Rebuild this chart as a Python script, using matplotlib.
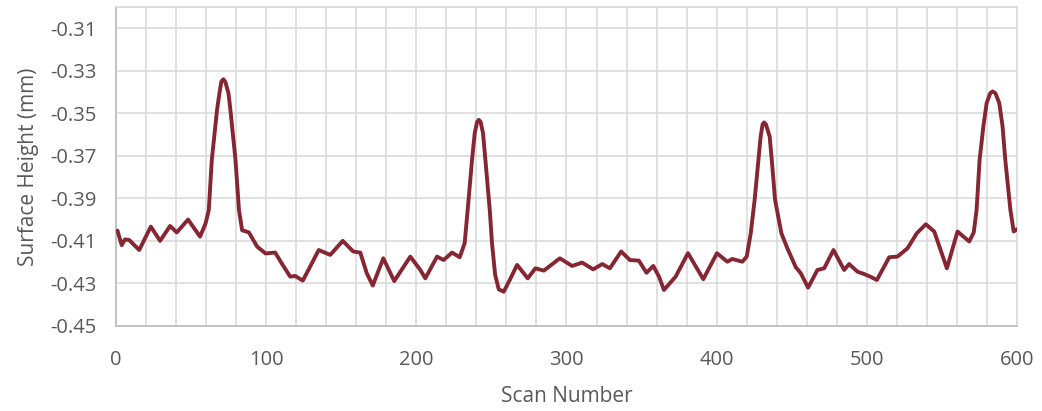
import matplotlib.pyplot as plt
from matplotlib.ticker import MultipleLocator

# Surface profile
scan = [1, 3.8, 6, 8.8, 15.5, 23.2, 29.4, 36, 40.5, 48, 56, 59.7, 61.8, 63.8, 67.3,
        68.9, 70.2, 71.5, 72.8, 74.9, 76.2, 79.6, 81.9, 84, 88.5, 94, 99.6,
        106, 110.4, 116, 119.3, 124.4, 129.3, 135, 142.7,
        151, 158, 162.7, 167, 171, 178, 185.3, 196, 202.7, 206, 213.8, 218.2, 223.8,
        228.9, 232.2, 234.2, 237.1, 238.9, 240.5, 241.6, 242.8, 244.4, 246, 248.9,
        250.4, 252.5, 254.9, 258.2, 262.2,
        267.1, 274.2, 279.3, 284.9, 295.6, 303.8, 310.4, 317.8, 323.8, 328.9, 336.4,
        342.2, 348.2, 353.3, 357.8, 361.6, 364.9, 372.7, 380.9, 391.1, 400.2, 407.1,
        410.4, 417.1, 420, 422.7, 425.3, 427.8, 429.3, 430.6, 431.6, 432.8, 435.3,
        436.7, 438.9, 443.1, 447.1, 452.7,
        456, 460.9, 467.1, 471.6, 477.8, 484.9, 488.2, 493.8, 498.2, 502.2, 506.7,
        514.9, 520.4, 527.1, 533.3, 539.3, 544.9, 553.3, 560.4, 568.2, 571.2, 573.1,
        575.1, 577.6, 579.8, 582.2, 583.8, 585.6, 588.2, 590.4, 592.2, 595.6, 597.8,
        600]
height = [-0.4052, -0.4120, -0.4093, -0.4096, -0.4143, -0.4033, -0.4100, -0.4030,
          -0.4060, -0.4000, -0.4080, -0.4017, -0.3955, -0.3720, -0.3484,
          -0.3405, -0.3350, -0.3340, -0.3352, -0.3405, -0.3484, -0.3720, -0.3955,
          -0.4050, -0.4060, -0.4127, -0.4159,
          -0.4155, -0.4206, -0.4268, -0.4265, -0.4287, -0.4221, -0.4143, -0.4166,
          -0.4100, -0.4150, -0.4155, -0.4252, -0.4310, -0.4182, -0.4289, -0.4174,
          -0.4237, -0.4276, -0.4174, -0.4190, -0.4155,
          -0.4177, -0.4111, -0.3954, -0.3719, -0.3593, -0.3540, -0.3531, -0.3540,
          -0.3593, -0.3719, -0.3954, -0.4111, -0.4260, -0.4328, -0.4339, -0.4284,
          -0.4213, -0.4276, -0.4229, -0.4240, -0.4182, -0.4218, -0.4202, -0.4234,
          -0.4209, -0.4229, -0.4150, -0.4190, -0.4193, -0.4250, -0.4218, -0.4268,
          -0.4331, -0.4268, -0.4158, -0.4280, -0.4158, -0.4198, -0.4185, -0.4198,
          -0.4174, -0.4064, -0.3907, -0.3719, -0.3609, -0.3552, -0.3543, -0.3552,
          -0.3609, -0.3719, -0.3907, -0.4064, -0.4135, -0.4224,
          -0.4252, -0.4320, -0.4237, -0.4229, -0.4143, -0.4237, -0.4209, -0.4245,
          -0.4256, -0.4268, -0.4284, -0.4177, -0.4174, -0.4135, -0.4064, -0.4022,
          -0.4056, -0.4229, -0.4056, -0.4103, -0.4060, -0.3954, -0.3719, -0.3562,
          -0.3452, -0.3405, -0.3397, -0.3405, -0.3452, -0.3562, -0.3719, -0.3954,
          -0.4056, -0.4045]

y_ticks = [-0.45, -0.43, -0.41, -0.39, -0.37, -0.35, -0.33, -0.31]

plt.rcParams['font.family'] = ['Open Sans', 'DejaVu Sans']

fig = plt.figure(figsize=(10.42, 4.11), dpi=100)
ax = fig.add_axes([0.1113, 0.207, 0.8647, 0.776])

ax.plot(scan, height, color='#862633', lw=2.8, solid_joinstyle='round',
        solid_capstyle='round', zorder=3)

ax.set_xlim(0, 600)
ax.set_ylim(-0.45, -0.30)
ax.xaxis.set_major_locator(MultipleLocator(100))
ax.xaxis.set_minor_locator(MultipleLocator(20))
ax.set_yticks(y_ticks)
ax.set_yticklabels(['%.2f' % v for v in y_ticks])

ax.grid(True, which='both', axis='x', color='#d9d9d9', lw=1.1)
ax.grid(True, which='major', axis='y', color='#d9d9d9', lw=1.1)
ax.axhline(-0.30, color='#d9d9d9', lw=1.1)
ax.set_axisbelow(True)

for side in ['top', 'right']:
    ax.spines[side].set_color('#d9d9d9')
    ax.spines[side].set_linewidth(1.1)
for side in ['left', 'bottom']:
    ax.spines[side].set_color('#bfbfbf')
    ax.spines[side].set_linewidth(1.3)

ax.tick_params(which='both', length=0, labelsize=14.5, labelcolor='#595959')
ax.tick_params(axis='x', pad=17)
ax.tick_params(axis='y', pad=14)

ax.set_xlabel('Scan Number', fontsize=15, color='#595959', labelpad=12)
ax.set_ylabel('Surface Height (mm)', fontsize=15, color='#595959', labelpad=8)

fig.savefig('out.png', dpi=100)
